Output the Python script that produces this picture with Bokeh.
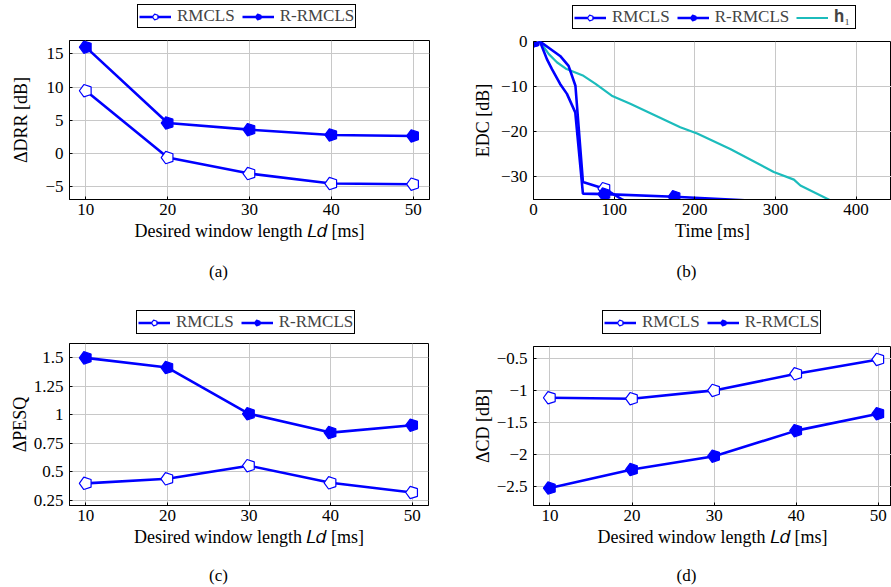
import math
from bokeh.plotting import figure
from bokeh.layouts import row, column
from bokeh.models import Range1d, FixedTicker, Legend, LegendItem, Label
from bokeh.embed import file_html
from bokeh.resources import INLINE

# ---------------- data ----------------
Ld = [10, 20, 30, 40, 50]
x_ticks = [10, 20, 30, 40, 50]

drr_rmcls = [9.45, -0.6, -3.0, -4.5, -4.6]
drr_rrmcls = [16.0, 4.6, 3.6, 2.8, 2.65]
drr_ticks = [-5, 0, 5, 10, 15]
drr_labels = ["\u22125", "0", "5", "10", "15"]

pesq_rmcls = [0.40, 0.44, 0.555, 0.405, 0.32]
pesq_rrmcls = [1.50, 1.415, 1.01, 0.845, 0.91]
pesq_ticks = [0.25, 0.5, 0.75, 1.0, 1.25, 1.5]
pesq_labels = ["0.25", "0.5", "0.75", "1", "1.25", "1.5"]

cd_rmcls = [-1.11, -1.125, -0.995, -0.735, -0.51]
cd_rrmcls = [-2.525, -2.235, -2.025, -1.625, -1.36]
cd_ticks = [-2.5, -2.0, -1.5, -1.0, -0.5]
cd_labels = ["\u22122.5", "\u22122", "\u22121.5", "\u22121", "\u22120.5"]

edc_rmcls_t = [0, 8, 33, 43.5, 52, 61.3, 88, 110, 130]
edc_rmcls = [0, 0, -3.2, -5.4, -9.8, -31.1, -32.6, -35.0, -37.0]
edc_rmcls_marks = [0, 6]

edc_rrmcls_t = [0, 8, 16.6, 22.9, 33, 41.5, 51.8, 61.3, 88, 175, 244, 300]
edc_rrmcls = [0, 0, -3.9, -6.1, -9.4, -11.6, -15.7, -33.7, -33.8, -34.4, -35.0, -35.5]
edc_rrmcls_marks = [0, 8, 9]

edc_h1_t = [0, 8, 19, 29, 41, 62, 77, 97, 120, 182, 203, 244, 298, 323, 331, 366, 380]
edc_h1 = [0, 0, -2.8, -4.6, -6.1, -7.6, -9.4, -12.0, -13.8, -19.0, -20.4, -23.8, -28.9, -30.6, -31.9, -35.0, -36.3]

edc_x_ticks = [0, 100, 200, 300, 400]
edc_y_ticks = [-30, -20, -10, 0]
edc_y_labels = ["\u221230", "\u221220", "\u221210", "0"]

series_names = ["RMCLS", "R-RMCLS", "\U0001D421\u2081"]
captions = ["(a)", "(b)", "(c)", "(d)"]

BLUE = "#0000ff"
CYAN = "#1cbcbc"
FONT = "Liberation Serif"
XLABEL = "Desired window length \U0001D43F\U0001D451 [ms]"


def make_fig(width, height, xr, yr, mbl, mbr, mbt, mbb):
    p = figure(width=width, height=height, x_range=Range1d(*xr), y_range=Range1d(*yr),
               output_backend="svg", toolbar_location=None,
               min_border_left=mbl, min_border_right=mbr,
               min_border_top=mbt, min_border_bottom=mbb)
    p.outline_line_color = "black"
    p.outline_line_width = 1
    p.outline_line_alpha = 1
    p.background_fill_color = "white"
    p.border_fill_color = "white"
    for ax in (p.xaxis[0], p.yaxis[0]):
        ax.axis_line_color = "black"
        ax.major_tick_in = 3
        ax.major_tick_out = 0
        ax.minor_tick_line_color = None
        ax.major_tick_line_color = "black"
        ax.major_label_text_font = FONT
        ax.major_label_text_font_size = "17px"
        ax.major_label_text_color = "black"
        ax.axis_label_text_font = FONT
        ax.axis_label_text_font_size = "18px"
        ax.axis_label_text_font_style = "normal"
        ax.axis_label_text_color = "black"
    p.xaxis[0].major_label_standoff = 4
    p.yaxis[0].major_label_standoff = 6
    p.grid.grid_line_color = "#c8c8c8"
    p.grid.grid_line_width = 1
    return p


def blank_fig(width, height):
    f = figure(width=width, height=height, x_range=Range1d(1000, 1001), y_range=Range1d(1000, 1001),
               output_backend="svg", toolbar_location=None,
               x_axis_type=None, y_axis_type=None,
               min_border_left=0, min_border_right=0, min_border_top=0, min_border_bottom=0)
    f.grid.visible = False
    f.outline_line_color = None
    f.background_fill_color = "white"
    f.border_fill_color = "white"
    return f


def pent(p, x, y, fill):
    return p.ngon(x=x, y=y, radius=6.5, radius_units="screen", n=5, angle=math.pi / 2,
                  line_color=BLUE, line_width=1.2, fill_color=fill)


def legend_fig(width, height, loc, a, b, h1=None):
    # the series are drawn again here only to give the key its glyphs (they lie outside this view)
    lf = blank_fig(width, height)
    l1 = lf.line(a[0], a[1], line_color=BLUE, line_width=2.6)
    m1 = pent(lf, a[0], a[1], "white")
    l2 = lf.line(b[0], b[1], line_color=BLUE, line_width=2.6)
    m2 = pent(lf, b[0], b[1], BLUE)
    items = [LegendItem(label=series_names[0], renderers=[l1, m1]),
             LegendItem(label=series_names[1], renderers=[l2, m2])]
    if h1 is not None:
        lh = lf.line(h1[0], h1[1], line_color=CYAN, line_width=2.2)
        items.append(LegendItem(label=series_names[2], renderers=[lh]))
    lg = Legend(items=items, orientation="horizontal", location=loc,
                border_line_color="black", border_line_width=1, border_line_alpha=1,
                background_fill_color="white", background_fill_alpha=1,
                label_text_font=FONT, label_text_font_size="17px",
                glyph_width=32, glyph_height=15, label_standoff=6, spacing=7,
                padding=1, margin=0, label_height=15)
    lf.add_layout(lg)
    return lf


def caption_fig(width, height, text, x, y):
    cf = blank_fig(width, height)
    cf.add_layout(Label(x=x, y=y, x_units="screen", y_units="screen", text=text,
                        text_align="center", text_baseline="middle",
                        text_font=FONT, text_font_size="17px", text_color="black"))
    return cf


def ld_panel(width, height, xr, yr, mbl, mbr, mbt, mbb, a, b, yticks, ylabels, ylabel,
             lab_standoff):
    p = make_fig(width, height, xr, yr, mbl, mbr, mbt, mbb)
    p.xaxis[0].ticker = FixedTicker(ticks=x_ticks)
    p.yaxis[0].ticker = FixedTicker(ticks=yticks)
    p.yaxis[0].major_label_overrides = {t: l for t, l in zip(yticks, ylabels)}
    p.xaxis[0].axis_label = XLABEL
    p.yaxis[0].axis_label = ylabel
    p.xaxis[0].axis_label_standoff = 3
    p.yaxis[0].axis_label_standoff = lab_standoff
    p.line(Ld, a, line_color=BLUE, line_width=2.6)
    pent(p, Ld, a, "white")
    p.line(Ld, b, line_color=BLUE, line_width=2.6)
    pent(p, Ld, b, BLUE)
    return p


# ---- (a) ----
pa = ld_panel(440, 227, (8, 52), (-6.9, 17), 69, 11, 10, 58, drr_rmcls, drr_rrmcls,
              drr_ticks, drr_labels, "\u0394DRR [dB]", 11)
lga = legend_fig(440, 30, (68, 2), (Ld, drr_rmcls), (Ld, drr_rrmcls))
cpa = caption_fig(440, 47, captions[0], 149, 33)

# ---- (b) ----
pb = make_fig(451, 227, (0, 444), (-35, 0), 93, 0, 11, 58)
pb.xaxis[0].ticker = FixedTicker(ticks=edc_x_ticks)
pb.yaxis[0].ticker = FixedTicker(ticks=edc_y_ticks)
pb.yaxis[0].major_label_overrides = {t: l for t, l in zip(edc_y_ticks, edc_y_labels)}
pb.xaxis[0].axis_label = "Time [ms]"
pb.yaxis[0].axis_label = "EDC [dB]"
pb.xaxis[0].axis_label_standoff = 3
pb.yaxis[0].axis_label_standoff = 5
pb.line(edc_h1_t, edc_h1, line_color=CYAN, line_width=2.2)
pb.line(edc_rmcls_t, edc_rmcls, line_color=BLUE, line_width=2.6)
pb.line(edc_rrmcls_t, edc_rrmcls, line_color=BLUE, line_width=2.6)
pent(pb, [edc_rmcls_t[i] for i in edc_rmcls_marks], [edc_rmcls[i] for i in edc_rmcls_marks], "white")
pent(pb, [edc_rrmcls_t[i] for i in edc_rrmcls_marks], [edc_rrmcls[i] for i in edc_rrmcls_marks], BLUE)
lgb = legend_fig(451, 30, (39, 1), (edc_rmcls_t, edc_rmcls), (edc_rrmcls_t, edc_rrmcls),
                 (edc_h1_t, edc_h1))
cpb = caption_fig(451, 47, captions[1], 153, 33)

# ---- (c) ----
pc = ld_panel(440, 229, (8, 52), (0.206, 1.626), 69, 12, 7, 60, pesq_rmcls, pesq_rrmcls,
              pesq_ticks, pesq_labels, "\u0394PESQ", 1)
lgc = legend_fig(440, 32, (67, 2), (Ld, pesq_rmcls), (Ld, pesq_rrmcls))
cpc = caption_fig(440, 22, captions[2], 149, 12)

# ---- (d) ----
pd = ld_panel(451, 229, (8, 51.6), (-2.798, -0.307), 93, 0, 10, 60, cd_rmcls, cd_rrmcls,
              cd_ticks, cd_labels, "\u0394CD [dB]", 1)
lgd = legend_fig(451, 32, (69, 2), (Ld, cd_rmcls), (Ld, cd_rrmcls))
cpd = caption_fig(451, 22, captions[3], 153, 12)

layout = column(row(column(lga, pa, cpa), column(lgb, pb, cpb)),
                row(column(lgc, pc, cpc), column(lgd, pd, cpd)))
open("out.html", "w").write(file_html(layout, INLINE))
